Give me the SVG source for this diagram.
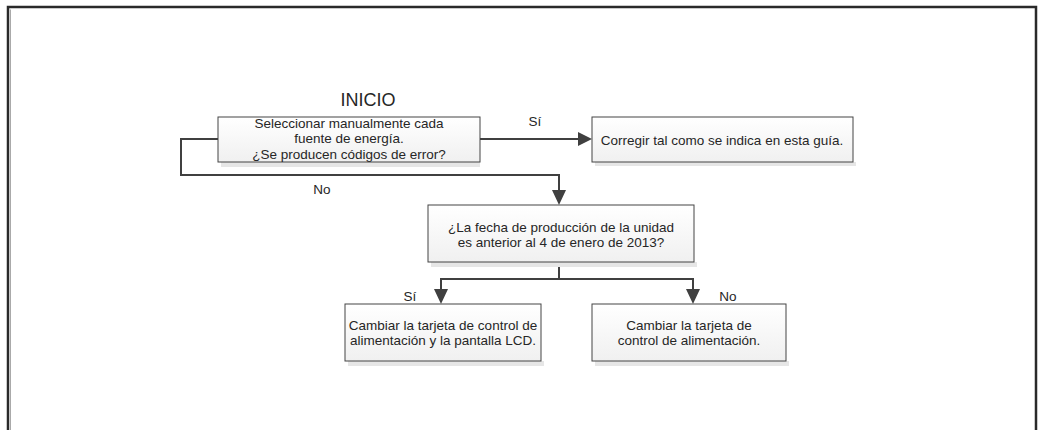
<svg xmlns="http://www.w3.org/2000/svg" width="1043" height="430" viewBox="0 0 1043 430">
<style>
.box{fill:url(#g);stroke:#444;stroke-width:1}
.sh{fill:#e6e6e6}
.t{font-family:"Liberation Sans",Arial,sans-serif;font-size:13.5px;fill:#262626;text-anchor:middle}
.c{fill:none;stroke:#404040;stroke-width:2}
.ar{fill:#404040}
</style>
<defs>
<linearGradient id="g" x1="0" y1="0" x2="0" y2="1"><stop offset="0" stop-color="#ffffff"/><stop offset="1" stop-color="#f0f0f0"/></linearGradient>
</defs>
<rect width="1043" height="430" fill="#fff"/>
<g id="frame">
<path d="M8,430 V7 H1036 V430" fill="none" stroke="#2a2a2a" stroke-width="2.5"/>
<path d="M10.5,430 V9.5" fill="none" stroke="#aaa" stroke-width="1"/>
</g>
<text class="t" x="368" y="106" style="font-size:18px">INICIO</text>
<g id="connectors">
<path class="c" d="M218,139 H181 V175 H559 V192"/>
<path class="c" d="M480,139 H579"/>
<path class="c" d="M559,262 V279 H693 V290"/>
<path class="c" d="M559,279 H441 V290"/>
<path class="ar" d="M552,190 L559,205 L566,190 z"/>
<path class="ar" d="M578,132 L578,146 L592,139 z"/>
<path class="ar" d="M434,289 L441,304 L448,289 z"/>
<path class="ar" d="M686,289 L693,304 L700,289 z"/>
<text class="t" x="535" y="126">Sí</text>
<text class="t" x="322" y="194">No</text>
<text class="t" x="410" y="301">Sí</text>
<text class="t" x="728" y="301">No</text>
</g>
<g id="n1">
<rect class="sh" x="221" y="162" width="259" height="5"/>
<rect class="box" x="218" y="117" width="262" height="45"/>
<text class="t" x="349" y="128">Seleccionar manualmente cada</text>
<text class="t" x="349" y="143">fuente de energía.</text>
<text class="t" x="349" y="159">¿Se producen códigos de error?</text>
</g>
<g id="n2">
<rect class="sh" x="595" y="162" width="261" height="4"/>
<rect class="box" x="592" y="117" width="261" height="45"/>
<text class="t" x="722" y="145">Corregir tal como se indica en esta guía.</text>
</g>
<g id="n3">
<rect class="sh" x="431" y="262" width="266" height="5"/>
<rect class="box" x="428" y="205" width="266" height="57"/>
<text class="t" x="561" y="232">¿La fecha de producción de la unidad</text>
<text class="t" x="561" y="247">es anterior al 4 de enero de 2013?</text>
</g>
<g id="n4">
<rect class="sh" x="348" y="361" width="196" height="5"/>
<rect class="box" x="345" y="304" width="196" height="57"/>
<text class="t" x="443" y="330">Cambiar la tarjeta de control de</text>
<text class="t" x="443" y="345">alimentación y la pantalla LCD.</text>
</g>
<g id="n5">
<rect class="sh" x="595" y="361" width="194" height="5"/>
<rect class="box" x="592" y="304" width="194" height="57"/>
<text class="t" x="689" y="330">Cambiar la tarjeta de</text>
<text class="t" x="689" y="345">control de alimentación.</text>
</g>
</svg>
